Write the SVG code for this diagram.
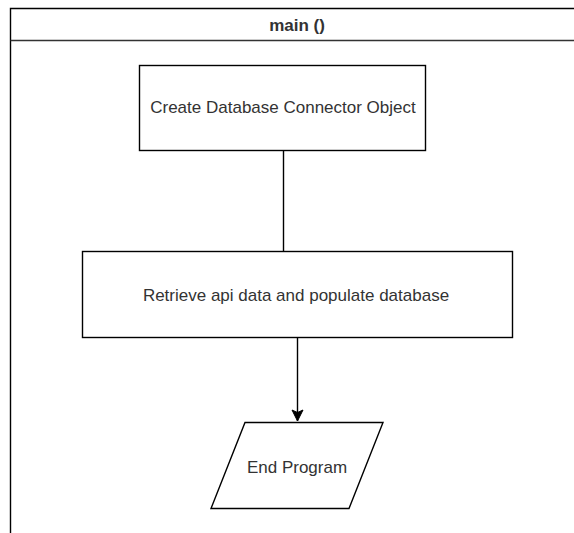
<svg xmlns="http://www.w3.org/2000/svg" width="574" height="533" viewBox="0 0 574 533">
<defs>
<style>
.shape{fill:#ffffff;stroke:#000000;stroke-width:1.4}
.lbl{font-family:"Liberation Sans",Arial,sans-serif;font-size:17px;fill:#333333;text-anchor:middle}
.conn{stroke:#000000;stroke-width:1.4;fill:none}
</style>
<marker id="arr" markerWidth="14" markerHeight="14" refX="12" refY="7" orient="auto" markerUnits="userSpaceOnUse">
<path d="M1,1.5 L12,7 L1,12.5 L3.5,7 Z" fill="#000000" stroke="#000000" stroke-width="1"/>
</marker>
</defs>
<rect width="574" height="533" fill="#ffffff"/>
<g id="container">
<path d="M10.5,540 L10.5,8.5 L580,8.5" class="conn"/>
<line x1="10.5" y1="40.5" x2="580" y2="40.5" stroke="#333333" stroke-width="1.4"/>
<text x="297" y="31" class="lbl" font-weight="bold">main ()</text>
</g>
<g id="connectors">
<line x1="283.5" y1="150" x2="283.5" y2="251" class="conn"/>
<line x1="297.5" y1="337" x2="297.5" y2="421" class="conn" marker-end="url(#arr)"/>
</g>
<g id="node-create">
<rect x="139.5" y="65.5" width="286" height="85" class="shape"/>
<text x="283" y="113" class="lbl">Create Database Connector Object</text>
</g>
<g id="node-retrieve">
<rect x="82.5" y="251.5" width="430" height="86" class="shape"/>
<text x="296" y="301" class="lbl">Retrieve api data and populate database</text>
</g>
<g id="node-end">
<polygon points="245,422.5 383,422.5 349,508.5 211,508.5" class="shape"/>
<text x="297" y="473" class="lbl">End Program</text>
</g>
</svg>
